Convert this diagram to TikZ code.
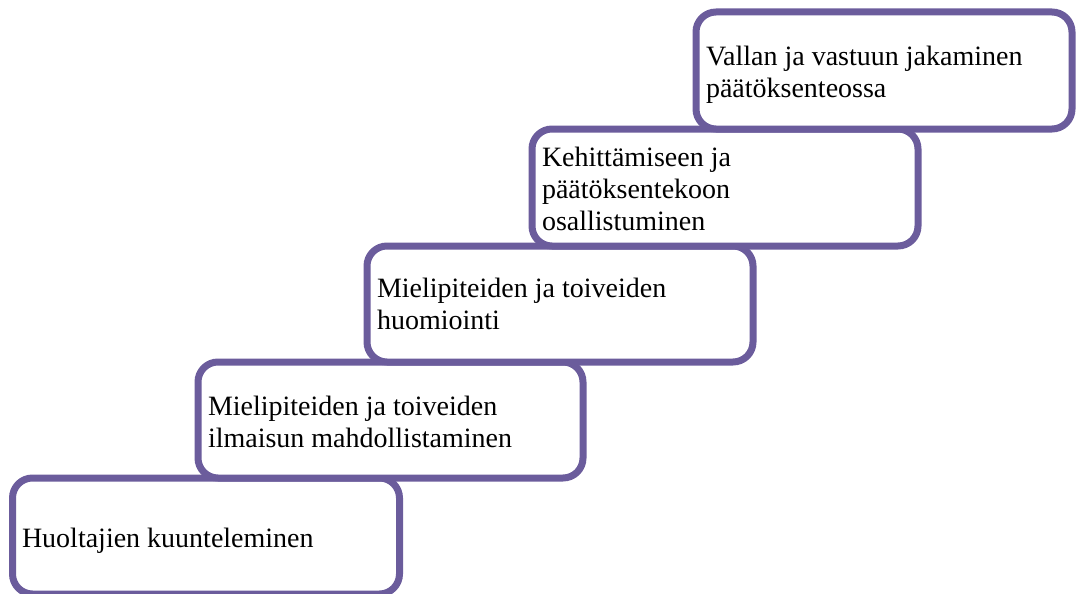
\documentclass[tikz,border=0pt]{standalone}
\usepackage{fontspec}
\setmainfont{Liberation Serif}
\definecolor{stepline}{RGB}{107,92,156}
\begin{document}
\begin{tikzpicture}[x=1pt,y=-1pt,
  stepbox/.style={draw=stepline, line width=7pt, fill=white, rounded corners=20pt,
    rectangle, inner sep=0pt, outer sep=0pt},
  steptext/.style={anchor=base west, inner sep=0pt, outer sep=0pt, align=left,
    font=\fontsize{28}{32}\selectfont, text=black}]
\useasboundingbox (0,0) rectangle (1076,594);
\node[stepbox, minimum width=387pt, minimum height=116pt] (b1) at (206,536) {};
\node[stepbox, minimum width=385pt, minimum height=116pt] (b2) at (390.5,420) {};
\node[stepbox, minimum width=386pt, minimum height=116pt] (b3) at (560,304) {};
\node[stepbox, minimum width=386pt, minimum height=117pt] (b4) at (725,187.5) {};
\node[stepbox, minimum width=376pt, minimum height=117pt] (b5) at (884,70.5) {};
\node[steptext] (t1) at (22,547) {Huoltajien kuunteleminen};
\node[steptext] (t2) at (208,447) {Mielipiteiden ja toiveiden\\ilmaisun mahdollistaminen};
\node[steptext] (t3) at (377,329) {Mielipiteiden ja toiveiden\\huomiointi};
\node[steptext] (t4) at (542,230) {Kehittämiseen ja\\päätöksentekoon\\osallistuminen};
\node[steptext] (t5) at (706,97) {Vallan ja vastuun jakaminen\\päätöksenteossa};
\end{tikzpicture}
\end{document}
